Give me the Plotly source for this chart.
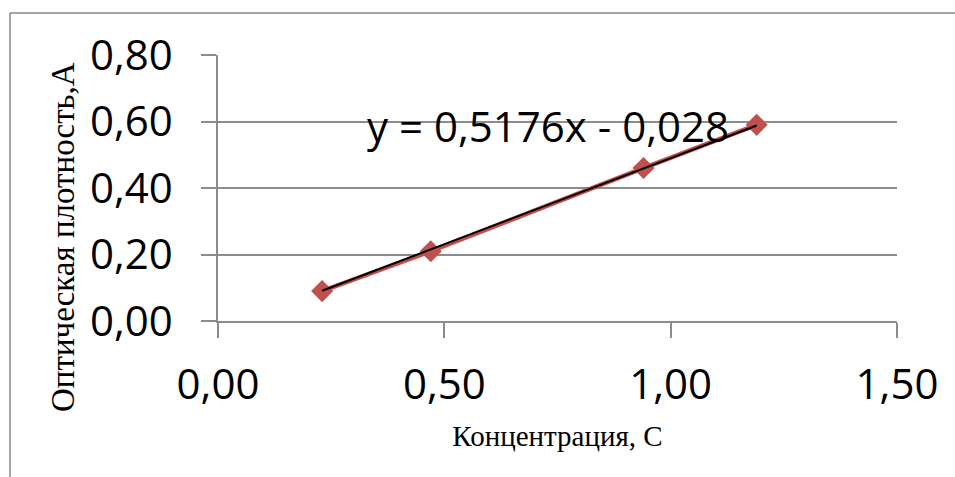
import plotly.graph_objects as go

# Data
concentration = [0.23, 0.47, 0.94, 1.19]
absorbance = [0.09, 0.21, 0.46, 0.59]

# Linear trendline coefficients (as shown on the chart)
slope = 0.5176
intercept = -0.028
equation_text = "y = 0,5176x - 0,028"

x_title = "Концентрация, С"
y_title = "Оптическая плотность,А"

x_ticks = [0.0, 0.5, 1.0, 1.5]
y_ticks = [0.0, 0.2, 0.4, 0.6, 0.8]

trend_x = [min(concentration), max(concentration)]
trend_y = [slope * v + intercept for v in trend_x]

RED = "#C0504D"
GRID = "#8C8C8C"
TICK_FONT = dict(family="Open Sans, Lato, Liberation Sans, sans-serif", size=42, color="#000000")
XTITLE_FONT = dict(family="Liberation Serif, Times New Roman, serif", size=29, color="#000000")
YTITLE_FONT = dict(family="Liberation Serif, Times New Roman, serif", size=33, color="#000000")

W, H = 955, 477
L, R, T, B = 218, 58, 55, 156
pw, ph = W - L - R, H - T - B

def px2x(p):
    return (p - L) / pw
def py2y(p):
    return 1 - (p - T) / ph

fig = go.Figure()
fig.add_trace(go.Scatter(
    x=concentration, y=absorbance, mode="lines+markers",
    line=dict(color=RED, width=4.5),
    marker=dict(symbol="diamond", size=17, color=RED, line=dict(width=0)),
    showlegend=False, hoverinfo="x+y",
))
fig.add_trace(go.Scatter(
    x=trend_x, y=trend_y, mode="lines",
    line=dict(color="#000000", width=2),
    showlegend=False, hoverinfo="skip",
))

fig.add_annotation(
    x=0.729, y=0.589, xref="x", yref="y", text=equation_text, showarrow=False,
    xanchor="center", yanchor="middle", font=TICK_FONT,
)

# y-axis title (placed lower than the plot-area centre, as in the reference)
fig.add_annotation(
    x=px2x(63), y=py2y(237), xref="paper", yref="paper", text=y_title,
    textangle=-90, showarrow=False, xanchor="center", yanchor="middle",
    font=YTITLE_FONT,
)

# outer frame (top and left edges visible)
fig.add_shape(type="line", xref="paper", yref="paper",
              x0=px2x(10), x1=px2x(956), y0=py2y(13), y1=py2y(13),
              line=dict(color="#888888", width=1.5))
fig.add_shape(type="line", xref="paper", yref="paper",
              x0=px2x(10), x1=px2x(10), y0=py2y(13), y1=py2y(478),
              line=dict(color="#888888", width=1.5))

fig.update_layout(
    width=W, height=H,
    margin=dict(l=L, r=R, t=T, b=B),
    paper_bgcolor="white", plot_bgcolor="white",
    separators=", ",
    xaxis=dict(
        range=[0, 1.5], tickvals=x_ticks, tickformat=".2f",
        showgrid=False, zeroline=False,
        showline=True, linecolor=GRID, linewidth=1.5,
        ticks="outside", ticklen=15, tickcolor=GRID, tickwidth=1.5,
        ticklabelstandoff=11,
        tickfont=TICK_FONT,
        title=dict(text=x_title, font=XTITLE_FONT, standoff=16),
    ),
    yaxis=dict(
        range=[0, 0.8], tickvals=y_ticks, tickformat=".2f",
        showgrid=True, gridcolor=GRID, gridwidth=1.5, zeroline=False,
        showline=True, linecolor=GRID, linewidth=1.5,
        ticks="outside", ticklen=15, tickcolor=GRID, tickwidth=1.5,
        ticklabelstandoff=20,
        tickfont=TICK_FONT,
    ),
)

fig.write_html(
    "out.html",
    config={"displayModeBar": False},
    post_script="document.body.style.margin='0';document.body.style.overflow='hidden';",
)
